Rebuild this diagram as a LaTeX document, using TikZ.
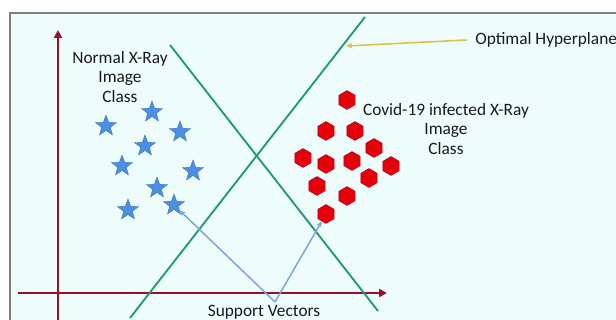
\documentclass[tikz,border=0pt]{standalone}
\usepackage{fontspec}
\setmainfont{Carlito}
\usetikzlibrary{arrows.meta,shapes.geometric}
\definecolor{Sky}{HTML}{EEFCFC}
\definecolor{Frame}{HTML}{808080}
\definecolor{Axis}{HTML}{980F28}
\definecolor{Plane}{HTML}{1F9A74}
\definecolor{StarBlue}{HTML}{4A8FE2}
\definecolor{HexRed}{HTML}{E5000C}
\definecolor{HexEdge}{HTML}{B80010}
\definecolor{Pointer}{HTML}{7BA3DE}
\definecolor{Marker}{HTML}{D8C44A}
\definecolor{Ink}{HTML}{1A1A1A}
\tikzset{
  label/.style={align=center,font=\fontsize{13}{14.5}\selectfont,text=Ink,inner sep=0pt},
  normal/.style={star,star points=5,star point ratio=2.4,fill=StarBlue,draw=StarBlue!80!black,line width=0.3pt,minimum size=16.5pt,inner sep=0pt},
  covid/.style={regular polygon,regular polygon sides=6,shape border rotate=30,fill=HexRed,draw=HexEdge,line width=0.5pt,minimum size=14pt,inner sep=0pt},
  axis/.style={draw=Axis,line width=2pt,-{Triangle[length=6pt,width=6pt]}},
  plane/.style={draw=Plane,line width=1.4pt},
  ptr/.style={draw=Pointer,line width=1.1pt,-{Stealth[length=4.5pt,width=4pt]}},
  hint/.style={draw=Marker,line width=1.2pt,-{Stealth[length=5pt,width=4.5pt]}}
}
\begin{document}
\begin{tikzpicture}[x=0.75pt,y=-0.75pt]
  \useasboundingbox (0,0) rectangle (616,320);
  \clip (0,0) rectangle (616,320);
  % panel
  \fill[Sky] (10,13) rectangle (616,320);
  \draw[Frame,line width=1pt] (10,320) -- (10,13) -- (616,13);
  % axes
  \coordinate (yfoot) at (58,320);
  \coordinate (ytop) at (58,30);
  \coordinate (xfoot) at (18,293);
  \coordinate (xend) at (387,293);
  \draw[axis] (yfoot) -- (ytop);
  \draw[axis] (xfoot) -- (xend);
  % hyperplanes
  \coordinate (p1a) at (170,45);
  \coordinate (p1b) at (378,311);
  \coordinate (p2a) at (130,318);
  \coordinate (p2b) at (365,17);
  \draw[plane] (p1a) -- (p1b);
  \draw[plane] (p2a) -- (p2b);
  % normal class
  \foreach \n/\x/\y in {1/106/126,2/152/112,3/180/132,4/145/146,5/122/166,
                        6/193/171,7/157/188,8/128/210,9/174/205}
    \node[normal] (s\n) at (\x,\y) {};
  % covid class
  \foreach \n/\x/\y in {1/347/100,2/326/131,3/355/131,4/374/148,5/303/158,
                        6/326/164,7/352/161,8/391/166,9/369/178,10/317/186,
                        11/347/196,12/326/214}
    \node[covid] (h\n) at (\x,\y) {};
  % texts
  \node[label] (normtxt) at (120,77) {Normal X-Ray\\Image\\Class};
  \node[label] (covtxt) at (446,129) {Covid-19 infected X-Ray\\Image\\Class};
  \node[label,anchor=west,inner xsep=6pt] (hptxt) at (467,40) {Optimal Hyperplane};
  \node[label,anchor=base] (svtxt) at (264,316) {Support Vectors};
  % pointers
  \coordinate (hpmark) at (346,46);
  \draw[hint] (hptxt.west) -- (hpmark);
  \coordinate (sv) at (275,302);
  \draw[ptr] (sv) -- (s9);
  \draw[ptr] (sv) -- (h12);
\end{tikzpicture}
\end{document}
